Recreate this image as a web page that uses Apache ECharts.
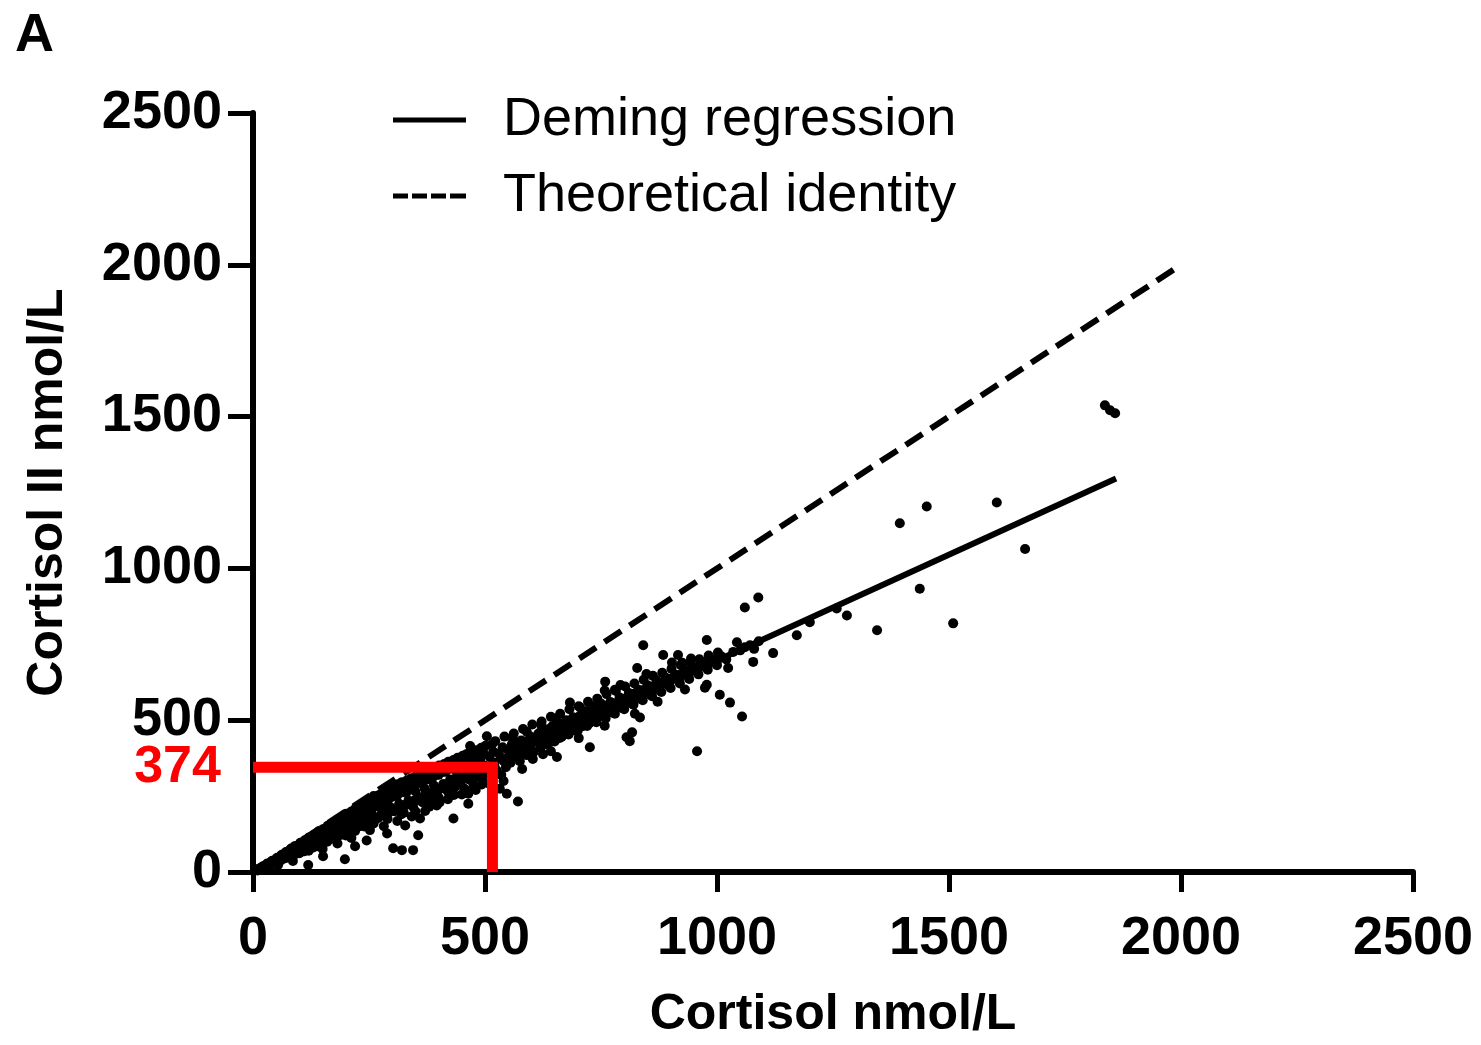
<!DOCTYPE html>
<html><head><meta charset="utf-8">
<script src="https://cdn.jsdelivr.net/npm/echarts@6/dist/echarts.min.js"></script>
<style>html,body{margin:0;padding:0;background:#fff;overflow:hidden}#c{width:1481px;height:1045px}</style>
</head><body><div id="c"></div>
<script>
// ---- data ----
const xTicks = [0, 500, 1000, 1500, 2000, 2500];
const yTicks = [0, 500, 1000, 1500, 2000, 2500];
const seriesNames = ['Deming regression', 'Theoretical identity'];
const demingLine = [[0, 0], [1860, 1296]];
const identityLine = [[0, 0], [2000, 2000]];
const cutoffValue = 374;
const cutoffPath = [[0, 345], [516, 345], [516, 0]];
const cutoffLabelPoint = [[0, 345]];
const bandLow = [
 [10,8],[15,12],[20,17],[25,20],[30,26],[35,28],[40,35],[45,38],[50,42],[55,44],[60,52],[65,50],[70,60],[75,58],[80,68],[85,66],[90,78],[95,72],[100,85],[100,70],
 [105,92],[110,80],[115,100],[120,88],[125,105],[130,95],[135,115],[140,100],[145,125],[150,110],[150,130],[155,118],[160,140],[165,125],[170,148],[175,130],[180,160],[185,140],[190,170],[195,150],[200,178],[200,140],[205,160],[210,195],[215,150],[220,200],[225,170],[230,210],[235,160],[240,220],[245,180],
 [120,70],[140,85],[160,100],[180,110],[200,120],[220,135],[240,150]
];
const bandMid = [
 [250,230],[255,195],[260,250],[265,175],[270,240],[275,210],[280,260],[285,190],[290,245],[295,215],[300,275],[305,200],[310,250],[315,225],[320,285],[325,195],[330,260],[335,235],[340,290],[345,215],[350,265],[355,240],[360,300],[365,230],[370,275],[375,250],[380,305],[385,235],[390,285],[395,260],[400,320],[400,245],
 [260,160],[290,175],[320,190],[350,200],[380,215],
 [410,290],[415,330],[420,265],[425,305],[430,340],[435,280],[440,320],[445,295],[450,350],[455,275],[460,330],[465,305],[470,360],[475,290],[480,340],[485,315],[490,370],[495,300],[500,350],[505,325],[510,380],[515,310],[520,360],[525,335],[530,390],[535,320],[540,370],[545,345],[550,400],
 [420,240],[450,255],[480,270],[510,290],[540,300],
 [430,360],[470,390],[504,447],[468,415]
];
const bandHigh = [
 [555,360],[560,410],[565,380],[570,420],[575,365],[580,400],[585,430],[590,385],[595,415],[600,440],[605,395],[610,430],[615,455],[620,410],[625,440],[630,465],[635,420],[640,450],[645,480],[650,430],[655,460],[660,490],[665,445],[670,475],[675,500],[680,455],[685,485],[690,510],[695,465],[700,495],[705,515],[710,480],[715,505],[720,530],[725,490],[730,520],[735,545],[740,500],[745,530],[750,555],
 [755,515],[760,540],[770,560],[775,525],[780,550],[790,575],[795,540],[800,565],[810,590],[815,555],[820,580],[830,600],[835,570],[840,595],[850,615],[855,585],[860,605],[870,630],[875,600],[880,620],[890,640],[895,615],[900,630],[910,650],[920,640],[930,665],[940,655],[950,675],[960,670],[970,690],[980,680],[990,700],[1000,695],
 [1010,710],[1020,700],[1035,725],[1043,757],[1050,730],[1060,740],[1071,747],[1080,735],[1090,760]
];
const bandFill = [
 [10,5],[12,10],[20,12],[22,19],[30,18],[31,28],[40,24],[42,37],[50,31],[52,47],[60,38],[62,57],[70,45],[71,66],[80,50],[82,77],[90,58],[91,86],[100,62],[102,96],
 [110,68],[111,104],[113,90],[120,76],[121,114],[123,98],[130,81],[132,123],[128,106],[140,90],[141,133],[138,116],[150,96],[152,142],[148,121],[160,104],[161,152],[158,129],
 [170,110],[172,160],[168,139],[180,119],[181,171],[178,146],[190,123],[192,180],[188,153],[200,131],[201,192],[198,161],[210,136],[212,199],[208,172],[220,146],[221,210],[218,179],
 [230,151],[232,216],[228,187],[240,159],[241,229],[238,196],[250,166],[252,237],[248,206],[260,171],[261,246],[258,212],[270,179],[272,254],[268,221],[280,186],[281,263],[278,229],
 [290,193],[292,271],[288,236],[300,201],[301,281],[298,246],[310,206],[312,289],[308,256],[320,216],[321,296],[318,261],[330,221],[332,302],[328,271],[340,229],[341,309],[338,279],
 [350,236],[352,316],[348,286],[360,243],[361,323],[358,293],[370,249],[372,331],[368,301],[380,256],[381,339],[378,306],[390,263],[392,343],[388,313],[400,271],[401,351],[398,321],
 [410,276],[412,356],[408,329],[420,284],[421,363],[418,336],[430,291],[432,369],[428,343],[440,297],[441,376],[438,349],[450,303],[452,383],[448,356],[460,311],[461,389],[458,361],
 [470,317],[472,396],[468,369],[480,323],[481,401],[478,376],[490,331],[492,409],[488,381],[500,337],[501,416],[498,389],
 [520,351],[522,431],[518,396],[540,366],[542,446],[538,411],[560,379],[562,456],[558,421],[580,391],[582,471],[578,433],[600,401],[602,486],[598,446],[620,416],[622,496],[618,459],
 [640,429],[642,511],[638,471],[660,441],[662,521],[658,481],[680,453],[682,536],[678,496],[700,466],[702,546],[698,506],[720,481],[722,561],[718,521],[740,493],[742,571],[738,531],
 [760,506],[762,586],[758,546],[780,521],[782,596],[778,556],[800,536],[802,611],[798,571],[820,551],[822,621],[818,586],[840,566],[842,633],[838,599],[860,579],[862,646],[858,611],
 [880,593],[882,656],[878,623],[900,606],[902,669],[898,636],[920,621],[922,681],[918,649],[940,636],[942,691],[938,661],[960,651],[962,701],[958,673],[980,666],[982,713],[978,686],[1000,681],[1002,723],[998,699]
];
const bandExtra = [
 [560,440],[590,462],[622,482],[652,506],[705,542],[758,598],[792,616],[848,652],[903,690],[944,703],
 [603,372],[642,398],[702,441],[758,482],[823,521],[872,561],[931,601],
 [150,76],[182,94],[212,112],[252,138],[282,151],[311,168],[342,183],[371,201],[402,229],[433,254],[461,268],[493,288],
 [265,225],[285,240],[305,262],[335,282],[365,310],[395,330],[425,350],[455,372],[485,395],[515,420]
];
const outliers = [
 [151,52],[198,42],[220,85],[245,104],[289,127],[302,78],[321,72],[345,72],[328,153],[356,121],[360,176],[396,219],[432,176],[464,225],[464,258],[547,258],[571,232],[54,23],[86,36],[119,23],[532,274],
 [841,747],[978,764],[1121,721],[1024,672],[1078,692],[978,617],[1006,584],[1028,558],[1054,512],[957,398],[759,627],[780,600],[805,444],[834,509],[726,411],[655,379],[625,388],[580,339],[683,558],[828,672],
 [884,715],[916,715],[925,689],[974,607],[817,460],[812,431],
 [1847,1521],[1858,1511],[1836,1537],[1452,1204],[1394,1149],[1603,1217],[1664,1064],[1437,933],[1509,819],[1345,796],[1089,904],[1060,871],[1172,780],[1200,823],[1280,845],[1258,868]
];
const allPoints = bandLow.concat(bandMid, bandHigh, bandFill, bandExtra, outliers);

const FONT = '"Liberation Sans", Arial, sans-serif';
const solidIcon = 'path://M0,0h73v5h-73z';
const dashIcon = 'path://M0,0h15v5h-15z M19,0h15v5h-15z M38,0h15v5h-15z M57,0h16v5h-16z';
const chart = echarts.init(document.getElementById('c'), null, {renderer: 'canvas'});
chart.setOption({
  animation: false,
  backgroundColor: '#fff',
  grid: {left: 253, top: 113, width: 1160, height: 766, containLabel: false},
  title: {text: 'A', left: 10, top: 4, textStyle: {fontFamily: FONT, fontSize: 54, fontWeight: 'bold', color: '#000'}},
  legend: {
    data: [{name: seriesNames[0], icon: solidIcon}, {name: seriesNames[1], icon: dashIcon}],
    orient: 'vertical', left: 388, top: 88, itemGap: 22,
    itemWidth: 73, itemHeight: 50,
    textStyle: {fontFamily: FONT, fontSize: 54, color: '#000', padding: [0, 0, 0, 32]},
    selectedMode: false
  },
  xAxis: {
    type: 'value', min: 0, max: 2500, interval: 500,
    name: 'Cortisol nmol/L', nameLocation: 'middle', nameGap: 118,
    nameTextStyle: {fontFamily: FONT, fontSize: 50, fontWeight: 'bold', color: '#000'},
    axisLine: {show: true, lineStyle: {color: '#000', width: 6}},
    axisTick: {show: true, length: 20, lineStyle: {color: '#000', width: 5}},
    axisLabel: {margin: 40, fontFamily: FONT, fontSize: 54, fontWeight: 'bold', color: '#000',
      formatter: v => xTicks.includes(v) ? String(v) : ''},
    splitLine: {show: false}
  },
  yAxis: {
    type: 'value', min: 0, max: 2500, interval: 500,
    name: 'Cortisol II nmol/L', nameLocation: 'middle', nameGap: 180, nameRotate: 90,
    nameTextStyle: {fontFamily: FONT, fontSize: 50, fontWeight: 'bold', color: '#000'},
    axisLine: {show: true, lineStyle: {color: '#000', width: 6}},
    axisTick: {show: true, length: 25, lineStyle: {color: '#000', width: 5}},
    axisLabel: {margin: 31, fontFamily: FONT, fontSize: 54, fontWeight: 'bold', color: '#000',
      formatter: v => yTicks.includes(v) ? String(v) : ''},
    splitLine: {show: false}
  },
  series: [
    {type: 'scatter', name: 'points', data: allPoints, symbolSize: 10, itemStyle: {color: '#000', opacity: 1}, z: 2},
    {type: 'line', name: seriesNames[0], data: demingLine, symbol: 'none', lineStyle: {color: '#000', width: 6, type: 'solid'}, itemStyle: {color: '#000'}, z: 3},
    {type: 'line', name: seriesNames[1], data: identityLine, symbol: 'none', lineStyle: {color: '#000', width: 6, type: [20, 10]}, itemStyle: {color: '#000'}, z: 3},
    {type: 'line', name: 'cutoff', data: cutoffPath, symbol: 'none', lineStyle: {color: '#ff0000', width: 11, cap: 'butt', join: 'miter'}, z: 5},
    {type: 'scatter', name: 'cutoffLabel', data: cutoffLabelPoint, symbolSize: 0.1, itemStyle: {color: 'rgba(0,0,0,0)', opacity: 1},
      label: {show: true, position: 'left', distance: 32, formatter: String(cutoffValue), fontFamily: FONT, fontSize: 52, fontWeight: 'bold', color: '#ff0000'}, z: 6}
  ]
});
</script></body></html>
